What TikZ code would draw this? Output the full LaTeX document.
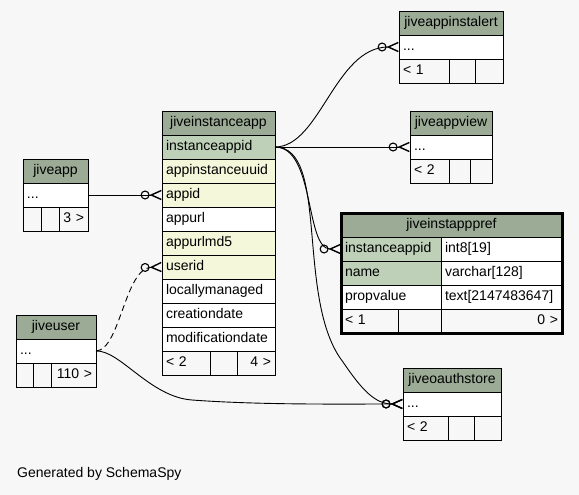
\documentclass[tikz,border=0pt]{standalone}
\usepackage{fontspec}
\setmainfont{Liberation Sans}
\usepackage{tikz}
\usetikzlibrary{arrows.meta, positioning}
\definecolor{tablehead}{HTML}{9BAB96}
\definecolor{keygreen}{HTML}{BED1B8}
\definecolor{indexyellow}{HTML}{F4F7DA}
\definecolor{pagegray}{HTML}{F7F7F7}

\begin{document}
\begin{tikzpicture}[
    x=1pt, y=-1pt,
    font=\fontsize{14}{16}\selectfont,
    cell/.style={rectangle, draw, line width=0.9pt, outer sep=0pt,
                 inner xsep=4pt, inner ysep=0pt, minimum height=24pt,
                 text height=10pt, text depth=3pt, text width=#1, align=left},
    tblhead/.style={cell=#1, fill=tablehead, align=center},
    pkcell/.style={cell=#1, fill=keygreen},
    idxcell/.style={cell=#1, fill=indexyellow},
    rowcell/.style={cell=#1, fill=white},
    footcell/.style={cell=#1},
    footright/.style={cell=#1, align=right},
    rel/.style={line width=0.9pt,
                -{Circle[open, length=9pt, width=9pt, line width=1.1pt]
                  Straight Barb[reversed, length=10pt, width=9pt, line width=1.4pt]}}
]
    \fill[pagegray] (0,0) rectangle (579,495);

    % jiveapp
    \node[tblhead=57pt, anchor=north west] (app) at (23,159) {jiveapp};
    \node[rowcell=57pt, below=0pt of app] (app-more) {...};
    \node[footcell=10pt, anchor=north west] (app-f1) at (app-more.south west) {};
    \node[footcell=10pt, right=0pt of app-f1] (app-f2) {};
    \node[footright=21pt, right=0pt of app-f2] (app-f3) {3 >};

    % jiveinstanceapp
    \node[tblhead=105pt, anchor=north west] (inst) at (162,111) {jiveinstanceapp};
    \node[pkcell=105pt, below=0pt of inst] (inst-id) {instanceappid};
    \node[idxcell=105pt, below=0pt of inst-id] (inst-uuid) {appinstanceuuid};
    \node[idxcell=105pt, below=0pt of inst-uuid] (inst-appid) {appid};
    \node[rowcell=105pt, below=0pt of inst-appid] (inst-url) {appurl};
    \node[idxcell=105pt, below=0pt of inst-url] (inst-md5) {appurlmd5};
    \node[idxcell=105pt, below=0pt of inst-md5] (inst-user) {userid};
    \node[rowcell=105pt, below=0pt of inst-user] (inst-local) {locallymanaged};
    \node[rowcell=105pt, below=0pt of inst-local] (inst-created) {creationdate};
    \node[rowcell=105pt, below=0pt of inst-created] (inst-modified) {modificationdate};
    \node[footcell=40pt, anchor=north west] (inst-f1) at (inst-modified.south west) {< 2};
    \node[footcell=19pt, right=0pt of inst-f1] (inst-f2) {};
    \node[footright=30pt, right=0pt of inst-f2] (inst-f3) {4 >};

    % jiveuser
    \node[tblhead=72pt, anchor=north west] (user) at (16,315) {jiveuser};
    \node[rowcell=72pt, below=0pt of user] (user-more) {...};
    \node[footcell=9pt, anchor=north west] (user-f1) at (user-more.south west) {};
    \node[footcell=10pt, right=0pt of user-f1] (user-f2) {};
    \node[footright=37pt, right=0pt of user-f2] (user-f3) {110 >};

    % jiveappinstalert
    \node[tblhead=96pt, anchor=north west] (alert) at (399,11) {jiveappinstalert};
    \node[rowcell=96pt, below=0pt of alert] (alert-more) {...};
    \node[footcell=42pt, anchor=north west] (alert-f1) at (alert-more.south west) {< 1};
    \node[footcell=18pt, right=0pt of alert-f1] (alert-f2) {};
    \node[footcell=20pt, right=0pt of alert-f2] (alert-f3) {};

    % jiveappview
    \node[tblhead=74pt, anchor=north west] (view) at (410,111) {jiveappview};
    \node[rowcell=74pt, below=0pt of view] (view-more) {...};
    \node[footcell=31pt, anchor=north west] (view-f1) at (view-more.south west) {< 2};
    \node[footcell=13pt, right=0pt of view-f1] (view-f2) {};
    \node[footcell=14pt, right=0pt of view-f2] (view-f3) {};

    % jiveinstapppref
    \node[tblhead=213pt, anchor=north west] (pref) at (341,213) {jiveinstapppref};
    \node[pkcell=92pt, anchor=north west] (pref-id) at (pref.south west) {instanceappid};
    \node[rowcell=113pt, right=0pt of pref-id] (pref-idtype) {int8[19]};
    \node[pkcell=92pt, below=0pt of pref-id] (pref-name) {name};
    \node[rowcell=113pt, right=0pt of pref-name] (pref-nametype) {varchar[128]};
    \node[rowcell=92pt, below=0pt of pref-name] (pref-value) {propvalue};
    \node[rowcell=113pt, right=0pt of pref-value] (pref-valuetype) {text[2147483647]};
    \node[footcell=49pt, anchor=north west] (pref-f1) at (pref-value.south west) {< 1};
    \node[footcell=35pt, right=0pt of pref-f1] (pref-f2) {};
    \node[footright=113pt, right=0pt of pref-f2] (pref-f3) {0 >};
    \draw[line width=3pt] (pref.north west) rectangle (pref-f3.south east);

    % jiveoauthstore
    \node[tblhead=90pt, anchor=north west] (oauth) at (403,368) {jiveoauthstore};
    \node[rowcell=90pt, below=0pt of oauth] (oauth-more) {...};
    \node[footcell=37pt, anchor=north west] (oauth-f1) at (oauth-more.south west) {< 2};
    \node[footcell=18pt, right=0pt of oauth-f1] (oauth-f2) {};
    \node[footcell=19pt, right=0pt of oauth-f2] (oauth-f3) {};

    % relationships
    \draw[rel] (app-more.east) -- (inst-appid.west);
    \draw[rel, dash pattern=on 6pt off 4pt] (user-more.east) .. controls (120,350) and (125,268) .. (inst-user.west);
    \draw[rel] (user-more.east) .. controls (120,350) and (150,397) .. (192,400)
        .. controls (260,405) and (340,404) .. (oauth-more.west);
    \draw[rel] (inst-id.east) .. controls (320,147) and (335,47) .. (alert-more.west);
    \draw[rel] (inst-id.east) -- (view-more.west);
    \draw[rel] (inst-id.east) .. controls (315,147) and (305,249) .. (pref-id.west);
    \draw[rel] (inst-id.east) .. controls (330,147) and (295,300) .. (343,362)
        .. controls (362,390) and (375,404) .. (oauth-more.west);

    \node[anchor=west, inner sep=0pt] (credit) at (17,474) {Generated by SchemaSpy};
\end{tikzpicture}
\end{document}
